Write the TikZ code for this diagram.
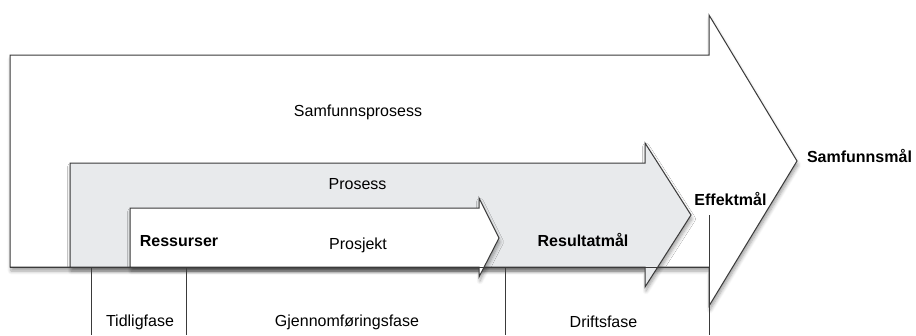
\documentclass[tikz,border=0pt]{standalone}
\usepackage{fontspec}
\setmainfont{Liberation Sans}
\usetikzlibrary{shadows.blur}
\definecolor{linegray}{HTML}{3A3A3A}
\definecolor{procfill}{HTML}{E8EAEC}
\begin{document}
\begin{tikzpicture}[x=1pt,y=-1pt,
  outline/.style={draw=linegray,line width=1pt,line join=miter},
  soft/.style={blur shadow={shadow xshift=1pt,shadow yshift=-4pt,shadow blur steps=6,shadow blur radius=3.5pt,shadow opacity=38}},
  lbl/.style={font=\fontsize{16}{19}\selectfont,inner sep=0pt},
  blbl/.style={lbl,font=\fontsize{16}{19}\selectfont\bfseries},
  divider/.style={draw=linegray,line width=1pt}]
\useasboundingbox (0,0) rectangle (916,335);
% society process arrow
\path[outline,fill=white,soft] (10,55) -- (709,55) -- (709,15) -- (797,161) -- (709,306) -- (709,267) -- (10,267) -- cycle;
% process arrow
\path[outline,fill=procfill,soft] (70,163) -- (645,163) -- (645,143) -- (691,215) -- (645,287) -- (645,267) -- (70,267) -- cycle;
% project arrow
\path[outline,fill=white,soft] (130,208) -- (479,208) -- (479,198) -- (499,238) -- (479,277) -- (479,267) -- (130,267) -- cycle;
% phase dividers
\coordinate (d1t) at (91,267);  \coordinate (d1b) at (91,335);
\coordinate (d2t) at (186,267); \coordinate (d2b) at (186,335);
\coordinate (d3t) at (505,267); \coordinate (d3b) at (505,335);
\coordinate (d4t) at (709,215); \coordinate (d4b) at (709,335);
\coordinate (base) at (10,267); \coordinate (basee) at (709,267);
\draw[divider] (d1t) -- (d1b);
\draw[divider] (d2t) -- (d2b);
\draw[divider] (d3t) -- (d3b);
\draw[divider] (d4t) -- (d4b);
\draw[divider] (base) -- (basee);
% labels
\node[lbl] (samp) at (358,112) {Samfunnsprosess};
\node[lbl] (pros) at (357.5,184) {Prosess};
\node[lbl] (prsj) at (358,245) {Prosjekt};
\node[blbl] (ress) at (179,241) {Ressurser};
\node[blbl] (resm) at (583,240) {Resultatmål};
\node[blbl] (effm) at (730.5,199) {Effektmål};
\node[blbl] (samm) at (859.5,156) {Samfunnsmål};
\node[lbl] (tidl) at (140,322) {Tidligfase};
\node[lbl] (gjen) at (347,322) {Gjennomføringsfase};
\node[lbl] (drif) at (603.5,322) {Driftsfase};
\end{tikzpicture}
\end{document}
